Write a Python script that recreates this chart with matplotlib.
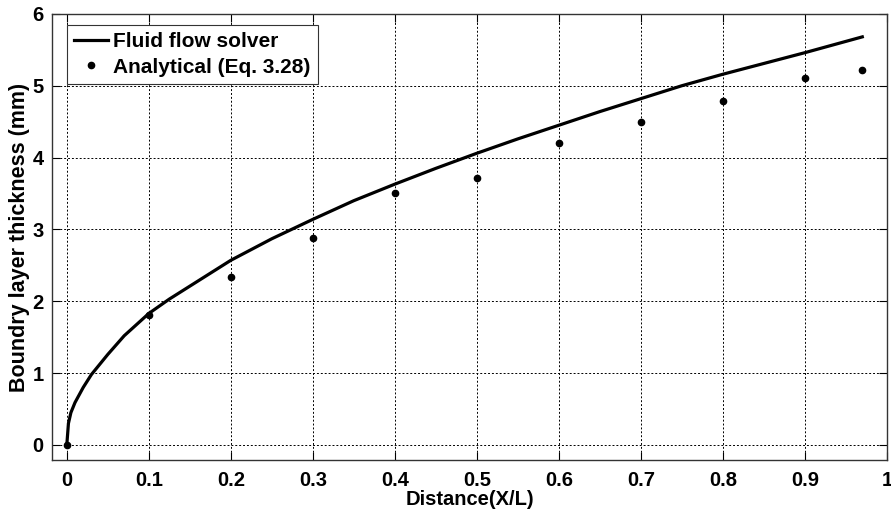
import matplotlib.pyplot as plt

# ---------- data ----------
solver_x = [0, 0.002, 0.005, 0.01, 0.02, 0.03, 0.04, 0.05, 0.07, 0.1, 0.125,
            0.15, 0.175, 0.2, 0.25, 0.3, 0.35, 0.4, 0.45, 0.5, 0.55, 0.6,
            0.65, 0.7, 0.75, 0.8, 0.85, 0.9, 0.97]
solver_y = [0, 0.3, 0.45, 0.59, 0.8, 0.98, 1.12, 1.26, 1.52, 1.83, 2.03,
            2.21, 2.39, 2.57, 2.87, 3.14, 3.4, 3.63, 3.85, 4.06, 4.26, 4.45,
            4.64, 4.82, 5.0, 5.16, 5.31, 5.46, 5.68]

anal_x = [0, 0.1, 0.2, 0.3, 0.4, 0.5, 0.6, 0.7, 0.8, 0.9, 0.97]
anal_y = [0, 1.81, 2.34, 2.88, 3.51, 3.72, 4.2, 4.5, 4.79, 5.11, 5.22]

xticks = [0, 0.1, 0.2, 0.3, 0.4, 0.5, 0.6, 0.7, 0.8, 0.9, 1]
xtick_labels = ["0", "0.1", "0.2", "0.3", "0.4", "0.5", "0.6", "0.7", "0.8", "0.9", "1"]
yticks = [0, 1, 2, 3, 4, 5, 6]

# ---------- style ----------
plt.rcParams["font.family"] = ["Liberation Sans", "DejaVu Sans"]
plt.rcParams["font.weight"] = "bold"

fig = plt.figure(figsize=(8.91, 5.14), dpi=100)
ax = fig.add_axes([0.0584, 0.105, 0.937, 0.868])

ax.plot(solver_x, solver_y, color="black", lw=2.3, label="Fluid flow solver")
ax.plot(anal_x, anal_y, "o", color="black", ms=4.5, label="Analytical (Eq. 3.28)")

ax.set_xlim(-0.018, 1.0)
ax.set_ylim(-0.21, 6)
ax.set_xticks(xticks)
ax.set_xticklabels(xtick_labels)
ax.set_yticks(yticks)

ax.grid(True, color="black", linestyle=(0, (2, 2)), linewidth=0.7)
ax.tick_params(axis="both", direction="in", top=True, right=True, length=6,
               width=0.8, labelsize=14.5)
ax.tick_params(axis="x", pad=8)
ax.tick_params(axis="y", pad=6)
for s in ax.spines.values():
    s.set_color("#333333")
    s.set_linewidth(1.0)

ax.set_xlabel("Distance(X/L)", fontsize=14.5, fontweight="bold", labelpad=0)
ax.set_ylabel("Boundry layer thickness (mm)", fontsize=15.5, fontweight="bold",
              labelpad=2)

leg = ax.legend(loc="upper left", bbox_to_anchor=(0.018, 0.975), borderaxespad=0,
                fontsize=15, frameon=True, fancybox=False,
                edgecolor="#333333", framealpha=1,
                handlelength=1.6, handletextpad=0.25, borderpad=0.35,
                labelspacing=0.3)
leg.get_frame().set_linewidth(0.8)

fig.savefig("out.png", dpi=100)
